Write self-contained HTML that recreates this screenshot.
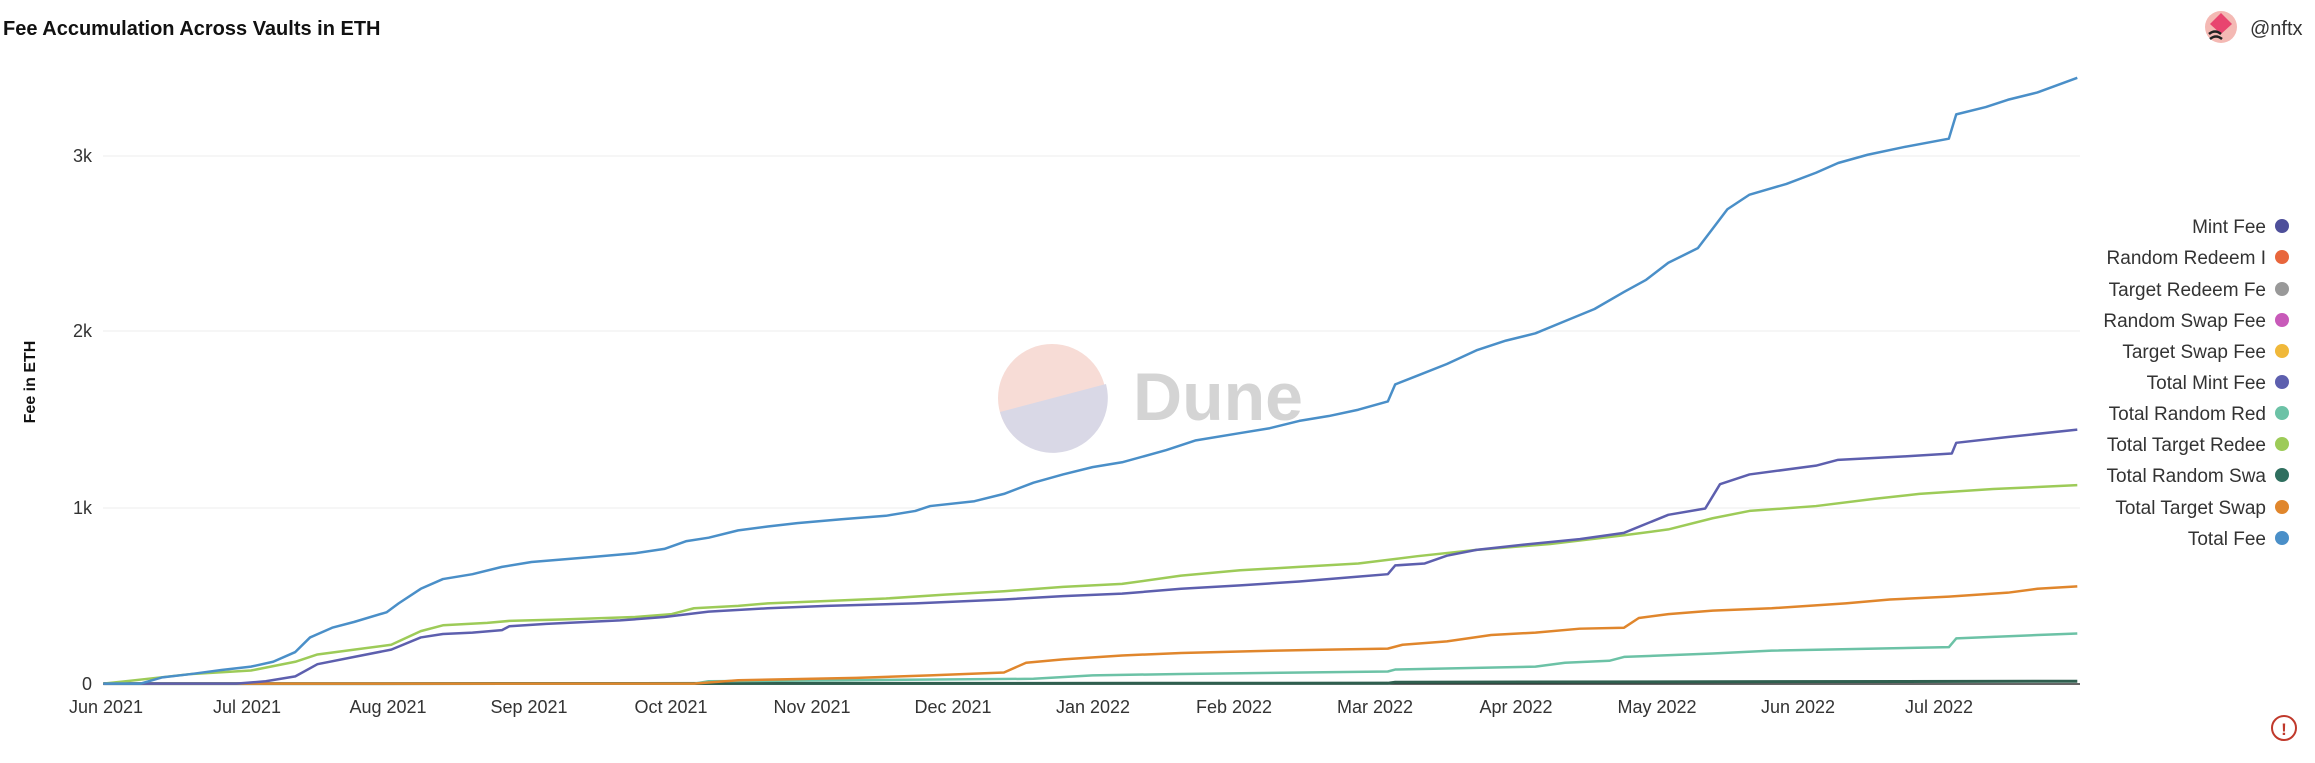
<!DOCTYPE html>
<html><head><meta charset="utf-8"><style>
body{margin:0;background:#fff;width:2315px;height:763px;overflow:hidden;font-family:"Liberation Sans",sans-serif;}
svg{position:absolute;left:0;top:0}
</style></head><body>
<svg width="2315" height="763" viewBox="0 0 2315 763">
<text x="3" y="35" font-size="20" font-weight="bold" fill="#111">Fee Accumulation Across Vaults in ETH</text>
<circle cx="2221" cy="27" r="16" fill="#f4b9b4"/>
<path d="M2221 13 L2232 24 L2221 34 L2210 24Z" fill="#e8456f"/>
<path d="M2209 34 q6 -5 12 0 M2210 39 q6 -5 12 0" stroke="#222" stroke-width="2.5" fill="none"/>
<text x="2250" y="35" font-size="20" fill="#333">@nftx</text>
<g stroke="#eee" stroke-width="1">
<line x1="103" y1="156" x2="2080" y2="156"/><line x1="103" y1="331" x2="2080" y2="331"/><line x1="103" y1="508" x2="2080" y2="508"/>
</g>
<line x1="103" y1="684" x2="2080" y2="684" stroke="#333" stroke-width="1.5"/>
<g font-size="18" fill="#333" text-anchor="end">
<text x="92" y="162">3k</text><text x="92" y="337">2k</text><text x="92" y="514">1k</text><text x="92" y="690">0</text>
</g>
<text transform="translate(35,382) rotate(-90)" font-size="16" font-weight="bold" text-anchor="middle" fill="#111">Fee in ETH</text>
<g font-size="18" fill="#333" text-anchor="middle">
<text x="106" y="713">Jun 2021</text><text x="247" y="713">Jul 2021</text><text x="388" y="713">Aug 2021</text><text x="529" y="713">Sep 2021</text><text x="671" y="713">Oct 2021</text><text x="812" y="713">Nov 2021</text><text x="953" y="713">Dec 2021</text><text x="1093" y="713">Jan 2022</text><text x="1234" y="713">Feb 2022</text><text x="1375" y="713">Mar 2022</text><text x="1516" y="713">Apr 2022</text><text x="1657" y="713">May 2022</text><text x="1798" y="713">Jun 2022</text><text x="1939" y="713">Jul 2022</text>
</g>
<circle cx="1052" cy="398" r="54" fill="#f7dcd6"/>
<path d="M1000 412 A54 54 0 0 0 1106 384 Z" fill="#d9d8e6"/>
<text x="1133" y="420" font-size="68" font-weight="bold" fill="#d4d4d4">Dune</text>
<g transform="matrix(1.4764 0 0 0.4866 0 0)" fill="none" stroke-linejoin="round">
<polyline vector-effect="non-scaling-stroke" stroke-width="3" stroke="#2f5f4f" points="70,1405 940,1404 945,1402 1407,1400"/>
<polyline vector-effect="non-scaling-stroke" stroke-width="2.5" stroke="#6cc2a6" points="70,1405 470,1405 480,1400 700,1395 740,1388 800,1385 940,1380 945,1376 1040,1370 1060,1362 1090,1358 1100,1350 1160,1343 1200,1337 1320,1330 1325,1312 1380,1305 1407,1302"/>
<polyline vector-effect="non-scaling-stroke" stroke-width="2.5" stroke="#e0862c" points="70,1405 470,1405 500,1398 580,1393 630,1388 680,1382 695,1362 720,1355 760,1347 800,1342 850,1338 900,1335 940,1333 950,1325 980,1318 1010,1305 1040,1300 1070,1292 1100,1290 1110,1270 1130,1262 1160,1255 1200,1250 1250,1240 1280,1232 1320,1226 1360,1218 1380,1210 1407,1205"/>
<polyline vector-effect="non-scaling-stroke" stroke-width="2.5" stroke="#9dcb58" points="70,1405 100,1395 130,1385 170,1378 200,1360 215,1345 240,1335 265,1325 285,1297 300,1285 330,1280 345,1276 380,1273 430,1268 455,1262 470,1250 500,1245 520,1240 560,1235 600,1230 640,1222 680,1215 720,1206 760,1200 800,1183 840,1172 880,1165 920,1158 960,1143 1000,1130 1050,1118 1100,1100 1130,1088 1160,1065 1185,1050 1230,1040 1270,1025 1300,1015 1350,1005 1407,997"/>
<polyline vector-effect="non-scaling-stroke" stroke-width="2.5" stroke="#5d5fae" points="70,1405 160,1405 180,1400 200,1390 215,1365 240,1350 265,1335 285,1310 300,1303 320,1300 340,1295 345,1287 370,1282 420,1275 450,1268 480,1257 520,1250 560,1245 620,1240 680,1232 720,1225 760,1220 800,1210 840,1203 880,1195 920,1185 940,1180 945,1162 965,1158 980,1142 1000,1130 1030,1120 1070,1108 1100,1095 1130,1058 1155,1045 1165,995 1185,975 1230,957 1245,945 1290,938 1322,932 1325,910 1360,898 1407,883"/>
<polyline vector-effect="non-scaling-stroke" stroke-width="2.5" stroke="#4a8fc8" points="70,1405 95,1405 110,1392 130,1385 150,1377 170,1370 185,1360 200,1340 210,1310 225,1290 240,1278 262,1258 270,1240 285,1210 300,1190 320,1180 340,1165 360,1155 400,1145 430,1137 450,1128 465,1112 480,1105 500,1090 520,1082 540,1075 570,1067 600,1060 620,1050 630,1040 660,1030 680,1015 700,992 720,975 740,960 760,950 790,925 810,905 840,890 860,880 880,865 900,855 920,842 940,825 945,790 960,772 980,748 1000,720 1020,700 1040,685 1060,660 1080,635 1100,600 1115,575 1130,540 1150,510 1160,470 1170,430 1185,400 1210,378 1230,355 1245,335 1265,318 1290,302 1320,285 1325,235 1345,220 1360,205 1380,190 1407,160"/>
</g>
<g font-size="19" fill="#333" text-anchor="end">
<text x="2266" y="233">Mint Fee</text><text x="2266" y="264">Random Redeem I</text><text x="2266" y="296">Target Redeem Fe</text><text x="2266" y="327">Random Swap Fee</text><text x="2266" y="358">Target Swap Fee</text><text x="2266" y="389">Total Mint Fee</text><text x="2266" y="420">Total Random Red</text><text x="2266" y="451">Total Target Redee</text><text x="2266" y="482">Total Random Swa</text><text x="2266" y="514">Total Target Swap</text><text x="2266" y="545">Total Fee</text>
</g>
<g>
<circle cx="2282" cy="226" r="7" fill="#4e4f9a"/><circle cx="2282" cy="257" r="7" fill="#e8663c"/><circle cx="2282" cy="289" r="7" fill="#999"/><circle cx="2282" cy="320" r="7" fill="#c85ab9"/><circle cx="2282" cy="351" r="7" fill="#f0b83a"/><circle cx="2282" cy="382" r="7" fill="#5d5fae"/><circle cx="2282" cy="413" r="7" fill="#6cc2a6"/><circle cx="2282" cy="444" r="7" fill="#9dcb58"/><circle cx="2282" cy="475" r="7" fill="#2f6f5f"/><circle cx="2282" cy="507" r="7" fill="#e0862c"/><circle cx="2282" cy="538" r="7" fill="#4a8fc8"/>
</g>
<circle cx="2284" cy="728" r="12" fill="none" stroke="#c0392b" stroke-width="2"/>
<text x="2284" y="735" font-size="17" font-weight="bold" fill="#c0392b" text-anchor="middle">!</text>
</svg>
</body></html>
